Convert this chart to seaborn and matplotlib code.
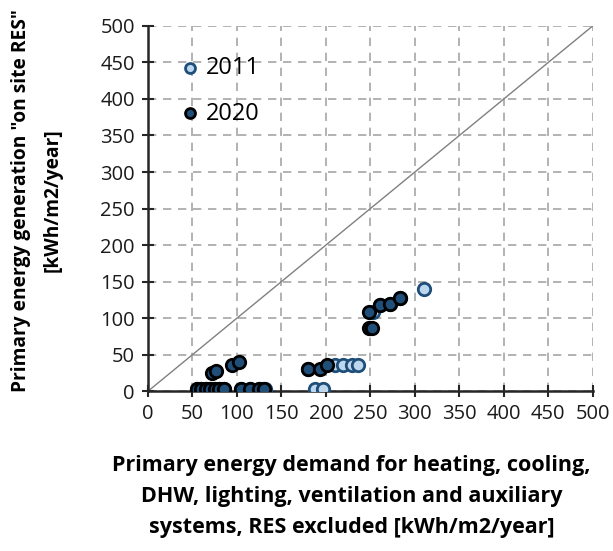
import matplotlib
matplotlib.use("Agg")
import matplotlib.pyplot as plt
import seaborn as sns
import pandas as pd

# Buildings: primary energy demand (x) vs on-site RES generation (y)
x_2011 = [55, 60, 65, 70, 75, 80, 85, 105, 115, 125, 132, 180, 188, 197, 210, 219, 229, 236,
          250, 253, 261, 272, 283, 310]
y_2011 = [3, 3, 3, 3, 3, 3, 3, 3, 3, 3, 3, 30, 3, 3, 36, 36, 36, 36,
          86, 108, 118, 120, 128, 140]
x_2020 = [55, 60, 65, 70, 75, 80, 85, 72, 77, 94, 102, 105, 115, 125, 130, 180, 193, 201,
          249, 252, 249, 261, 272, 283]
y_2020 = [3, 3, 3, 3, 3, 3, 3, 25, 27, 36, 40, 3, 3, 3, 3, 30, 30, 36,
          86, 87, 108, 118, 120, 128]

df = pd.concat([
    pd.DataFrame({"demand": x_2011, "generation": y_2011, "year": "2011"}),
    pd.DataFrame({"demand": x_2020, "generation": y_2020, "year": "2020"}),
])

sns.set_theme(style="white")
plt.rcParams["font.family"] = ["Open Sans", "DejaVu Sans"]

fig = plt.figure(figsize=(6.13, 5.51), dpi=100)
ax = fig.add_axes([0.2414, 0.290, 0.7256, 0.663])

ax.plot([0, 500], [0, 500], color="#808080", lw=1.0, zorder=1)

styles = {"2011": ("#BDD7EE", "#1F4E79"), "2020": ("#1F4E79", "#000000")}
for yr, (fc, ec) in styles.items():
    sub = df[df["year"] == yr]
    sns.scatterplot(data=sub, x="demand", y="generation", ax=ax, s=80,
                    color=fc, edgecolor=ec, linewidth=2.0, zorder=3, label=yr)

ax.set_xlim(0, 500)
ax.set_ylim(0, 500)
ticks = list(range(0, 501, 50))
ax.set_xticks(ticks)
ax.set_yticks(ticks)
ax.grid(True, color="#A6A6A6", linestyle=(0, (5, 4)), lw=1.2)
ax.set_axisbelow(True)
for s in ["top", "right"]:
    ax.spines[s].set_visible(False)
for s in ["left", "bottom"]:
    ax.spines[s].set_color("#262626")
    ax.spines[s].set_linewidth(1.8)
ax.tick_params(axis="both", direction="inout", length=9, width=1.5, color="#262626",
               labelsize=14.5, labelcolor="#1a1a1a", pad=5, left=True, bottom=True)

ax.set_xlabel("Primary energy demand for heating, cooling,\nDHW, lighting, ventilation and auxiliary\nsystems, RES excluded [kWh/m2/year]",
              fontsize=15.5, fontweight="bold", linespacing=1.62, color="black")
ax.xaxis.set_label_coords(0.458, -0.175)
ax.set_ylabel("Primary energy generation \"on site RES\"\n[kWh/m2/year]",
              fontsize=13.8, fontweight="bold", linespacing=1.75, color="black")
ax.yaxis.set_label_coords(-0.193, 0.523)

leg = ax.legend(loc="upper left", bbox_to_anchor=(0.025, 0.975), frameon=False,
                fontsize=17, handlelength=0.8, handletextpad=0.3, labelspacing=0.9,
                markerscale=0.8, labelcolor="black")

fig.savefig("out.png", dpi=100)
